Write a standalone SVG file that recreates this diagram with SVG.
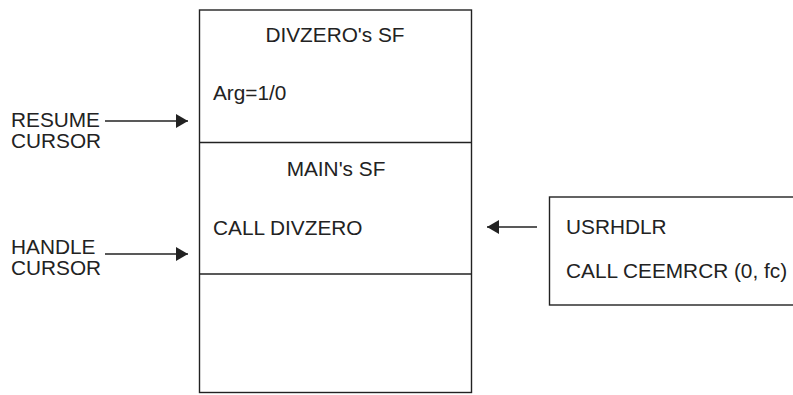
<svg xmlns="http://www.w3.org/2000/svg" width="793" height="395" viewBox="0 0 793 395">
<style>
.t{font-family:"Liberation Sans",Arial,sans-serif;font-size:20.8px;fill:#222}
.b{fill:none;stroke:#222;stroke-width:1.4}
.c{stroke:#222;stroke-width:1.4;fill:none}
</style>
<defs>
<marker id="ah" markerWidth="12" markerHeight="14" refX="12" refY="7" orient="auto" markerUnits="userSpaceOnUse">
<path d="M0,0 L12,7 L0,14 Z" fill="#222"/>
</marker>
</defs>
<rect width="793" height="395" fill="#fff"/>
<g id="stack">
<rect class="b" x="199.5" y="10" width="272" height="382.5"/>
<line class="b" x1="199.5" y1="142.5" x2="471.5" y2="142.5"/>
<line class="b" x1="199.5" y1="274" x2="471.5" y2="274"/>
</g>
<g id="divzero-sf">
<text class="t" x="335" y="42" text-anchor="middle">DIVZERO's SF</text>
<text class="t" x="213" y="100">Arg=1/0</text>
</g>
<g id="main-sf">
<text class="t" x="336" y="176" text-anchor="middle">MAIN's SF</text>
<text class="t" x="213" y="235">CALL DIVZERO</text>
</g>
<g id="usrhdlr">
<rect class="b" x="549.5" y="197" width="250" height="108"/>
<text class="t" x="566" y="234">USRHDLR</text>
<text class="t" x="566" y="277.5">CALL CEEMRCR (0, fc)</text>
</g>
<g id="resume-cursor">
<text class="t" x="11" y="127">RESUME</text>
<text class="t" x="11" y="148">CURSOR</text>
</g>
<g id="handle-cursor">
<text class="t" x="11" y="254">HANDLE</text>
<text class="t" x="11" y="275">CURSOR</text>
</g>
<g id="connectors">
<line class="c" x1="105" y1="121" x2="188" y2="121" marker-end="url(#ah)"/>
<line class="c" x1="105" y1="254" x2="188" y2="254" marker-end="url(#ah)"/>
<line class="c" x1="537" y1="227" x2="487" y2="227" marker-end="url(#ah)"/>
</g>
</svg>
